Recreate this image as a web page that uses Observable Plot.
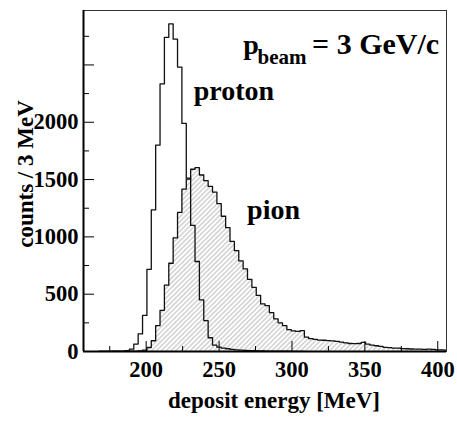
<!DOCTYPE html>
<html><head><meta charset="utf-8">
<script src="https://cdn.jsdelivr.net/npm/d3@7"></script>
<script src="https://cdn.jsdelivr.net/npm/@observablehq/plot@0.6"></script>
<style>body{margin:0;background:#fff} svg text{font-family:'Liberation Serif','Times New Roman',serif !important;font-weight:bold}</style>
</head><body><div id="chart"></div>
<script>
// histogram binning (MeV)
const binWidth = 3;
const firstEdge = 167.5;
// counts per 3 MeV bin, starting at firstEdge
const protonCounts = [1,1,1,2,2,3,8,20,65,153,315,717,1235,1800,2334,2740,2858,2725,2481,1990,1513,1100,785,450,270,120,55,38,30,24,19,15,12,10,8,7,6,5,4,3,3,2,2,2,1,1,1];
const pionCounts = [1,1,1,1,1,1,2,2,3,5,12,35,94,226,359,579,770,991,1213,1417,1504,1590,1605,1540,1490,1440,1390,1290,1180,1080,960,880,790,720,630,560,490,415,400,340,285,250,225,190,180,175,182,125,112,105,100,98,95,92,88,82,76,70,68,70,80,65,55,50,45,36,34,30,30,25,24,22,20,20,18,20,18,15,14,12];
// axes
const xTickLabels = [200, 250, 300, 350, 400];
const xMinorTicks = [175, 225, 275, 325, 375];
const yTickLabels = [0, 500, 1000, 1500, 2000];
const yMajorTicks = [0, 500, 1000, 1500, 2000, 2500];
const yMinorTicks = [250, 750, 1250, 1750, 2250, 2750];
const xDomain = [157, 406];
const yDomain = [0, 2975];

const W = 457, H = 424, mL = 83, mR = 11, mT = 10, mB = 73;
const frameW = W - mL - mR, frameH = H - mT - mB;
const serif = "'Liberation Serif', 'Times New Roman', serif";

function steps(counts) {
  const pts = [{x: firstEdge, y: 0}];
  counts.forEach((c, i) => pts.push({x: firstEdge + i * binWidth, y: c}));
  pts.push({x: firstEdge + counts.length * binWidth, y: 0});
  return pts;
}
const proton = steps(protonCounts);
const pion = steps(pionCounts);

const chart = Plot.plot({
  width: W, height: H,
  marginLeft: mL, marginRight: mR, marginTop: mT, marginBottom: mB,
  style: {fontFamily: serif, fontWeight: "bold", background: "#fff", color: "#000"},
  x: {domain: xDomain, axis: null},
  y: {domain: yDomain, axis: null},
  marks: [
    Plot.areaY(pion, {x: "x", y: "y", curve: "step-after", fill: "url(#hatch)", clip: true}),
    Plot.lineY(pion, {x: "x", y: "y", curve: "step-after", stroke: "#111", strokeWidth: 1.3, clip: true}),
    Plot.lineY(proton, {x: "x", y: "y", curve: "step-after", stroke: "#111", strokeWidth: 1.3, clip: true}),
    Plot.frame({stroke: "#333", strokeWidth: 1}),
    Plot.ruleY([yDomain[0]], {stroke: "#000", strokeWidth: 2}),
    Plot.ruleX([xDomain[0]], {stroke: "#000", strokeWidth: 2}),
    Plot.tickX(xTickLabels, {x: d => d, insetTop: frameH - 10, stroke: "#000"}),
    Plot.tickX(xMinorTicks, {x: d => d, insetTop: frameH - 5, stroke: "#000"}),
    Plot.tickY(yMajorTicks, {y: d => d, insetRight: frameW - 11, stroke: "#000"}),
    Plot.tickY(yMinorTicks, {y: d => d, insetRight: frameW - 6, stroke: "#000"}),
    Plot.text(xTickLabels, {x: d => d, text: d => String(d), frameAnchor: "bottom", lineAnchor: "top", dy: 10, fontSize: 22.5, fontFamily: serif, fontWeight: "bold"}),
    Plot.text(yTickLabels, {y: d => d, text: d => String(d), frameAnchor: "left", textAnchor: "end", dx: -5, fontSize: 22.5, fontFamily: serif, fontWeight: "bold"}),
    Plot.text(["counts / 3 MeV"], {text: d => d, frameAnchor: "left", rotate: -90, dx: -50.5, dy: -7, lineAnchor: "bottom", textAnchor: "middle", fontSize: 23, fontFamily: serif}),
    Plot.text(["deposit energy [MeV]"], {text: d => d, frameAnchor: "bottom", dx: 9, dy: 56, lineAnchor: "bottom", textAnchor: "middle", fontSize: 23, fontFamily: serif}),
    Plot.text(["proton"], {text: d => d, x: 232.6, y: 2196, textAnchor: "start", lineAnchor: "bottom", fontSize: 28, fontFamily: serif}),
    Plot.text(["pion"], {text: d => d, x: 269.2, y: 1155, textAnchor: "start", lineAnchor: "bottom", fontSize: 28, fontFamily: serif}),
    Plot.text(["p"], {text: d => d, x: 266.5, y: 2595, textAnchor: "start", lineAnchor: "bottom", fontSize: 28, fontFamily: serif}),
    Plot.text(["beam"], {text: d => d, x: 276.4, y: 2505, textAnchor: "start", lineAnchor: "bottom", fontSize: 21, fontFamily: serif}),
    Plot.text(["= 3 GeV/c"], {text: d => d, x: 313.8, y: 2595, textAnchor: "start", lineAnchor: "bottom", fontSize: 30, fontFamily: serif})
  ]
});

const svg = chart.tagName.toLowerCase() === "svg" ? chart : chart.querySelector("svg");
const defs = d3.select(svg).insert("defs", ":first-child");
const pat = defs.append("pattern").attr("id", "hatch").attr("patternUnits", "userSpaceOnUse")
  .attr("width", 3.4).attr("height", 3.4).attr("patternTransform", "rotate(45)");
pat.append("rect").attr("width", 3.4).attr("height", 3.4).attr("fill", "#fff");
pat.append("line").attr("x1", 1.7).attr("y1", 0).attr("x2", 1.7).attr("y2", 3.4).attr("stroke", "#888").attr("stroke-width", 0.6);
document.getElementById("chart").appendChild(chart);
</script>
</body></html>
